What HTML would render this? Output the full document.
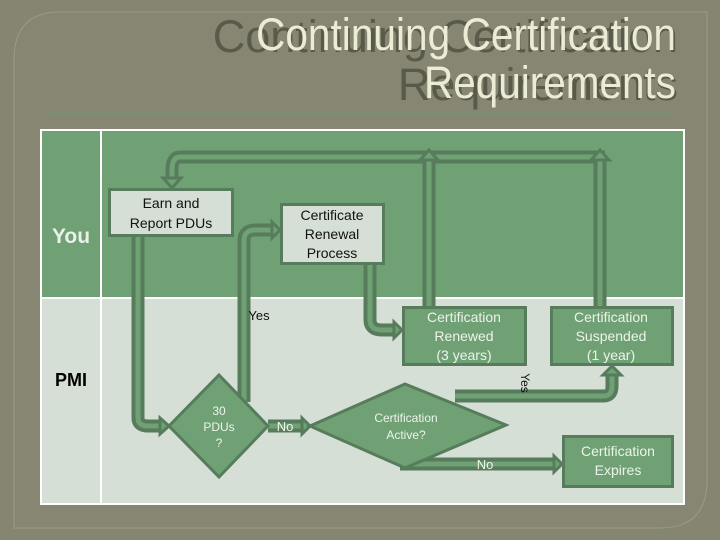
<!DOCTYPE html>
<html><head><meta charset="utf-8"><style>
html,body{margin:0;padding:0;background:#878774;}
svg{display:block}
</style></head><body>
<svg width="720" height="540" viewBox="0 0 720 540" xmlns="http://www.w3.org/2000/svg" font-family="Liberation Sans, sans-serif">
<rect x="0" y="0" width="720" height="540" fill="#858572"/>
<path d="M60 12 H707 V480 Q707 528 660 528 H14 V60 Q14 12 60 12 Z" fill="#868673" stroke="#9a9a88" stroke-width="1"/>
<g font-family="Liberation Sans Narrow, Liberation Sans, sans-serif" font-size="45" fill="#ecebd6" text-anchor="end">
<text x="678" y="52" fill="#3e3e30" opacity="0.6">Continuing Certification</text>
<text x="676" y="50" textLength="420" lengthAdjust="spacingAndGlyphs">Continuing Certification</text>
<text x="678" y="100" fill="#3e3e30" opacity="0.6">Requirements</text>
<text x="676" y="98" textLength="252" lengthAdjust="spacingAndGlyphs">Requirements</text>
</g>
<line x1="46" y1="113" x2="674" y2="113" stroke="#7d8f72" stroke-width="3"/>
<!-- table -->
<rect x="41" y="130" width="643" height="168" fill="#6fa175"/>
<rect x="41" y="298" width="643" height="206" fill="#d5dfd5"/>
<rect x="41" y="130" width="643" height="374" fill="none" stroke="#ffffff" stroke-width="2"/>
<line x1="41" y1="298" x2="684" y2="298" stroke="#fff" stroke-width="2"/>
<line x1="101" y1="130" x2="101" y2="504" stroke="#fff" stroke-width="2"/>
<text x="71" y="243" font-size="21" font-weight="bold" fill="#ecf0e8" text-anchor="middle">You</text>
<text x="71" y="386" font-size="18" font-weight="bold" fill="#000" text-anchor="middle">PMI</text>
<!-- connectors -->
<g fill="none" stroke-linejoin="round">
<g stroke="#567c5b" stroke-width="13">
<path d="M429 306 V157 M600 306 V157 M605 157 H180 Q172 157 172 170 V182"/>
<path d="M138 237 V418 Q138 426 148 426 H162"/>
<path d="M244 402 V240 Q244 230 256 230 H274"/>
<path d="M370 265 V320 Q370 330 382 330 H396"/>
<path d="M268 426 H304"/>
<path d="M455 396 H604 Q612 396 612 386 V372"/>
<path d="M400 464 H556"/>
</g>
<g stroke="#6fa175" stroke-width="5">
<path d="M429 306 V157 M600 306 V157 M605 157 H180 Q172 157 172 170 V182"/>
<path d="M138 237 V418 Q138 426 148 426 H162"/>
<path d="M244 402 V240 Q244 230 256 230 H274"/>
<path d="M370 265 V320 Q370 330 382 330 H396"/>
<path d="M268 426 H304"/>
<path d="M455 396 H604 Q612 396 612 386 V372"/>
<path d="M400 464 H556"/>
</g>
</g>
<g fill="#6fa175" stroke="#567c5b" stroke-width="3" stroke-linejoin="miter">
<polygon points="420,160 429,150 438,160"/>
<polygon points="591,160 600,150 609,160"/>
<polygon points="163,178 172,188 181,178"/>
<polygon points="160,418 169,426 160,434"/>
<polygon points="272,222 280,230 272,238"/>
<polygon points="394,322 402,330 394,338"/>
<polygon points="302,418 310,426 302,434"/>
<polygon points="603,375 612,366 621,375"/>
<polygon points="554,456 562,464 554,472"/>
</g>
<!-- boxes -->
<rect x="109.5" y="189.5" width="123" height="46" fill="#d5dfd5" stroke="#567c5b" stroke-width="3"/>
<text x="171" y="208" font-size="14" fill="#111" text-anchor="middle">Earn and</text>
<text x="171" y="228" font-size="14" fill="#111" text-anchor="middle">Report PDUs</text>
<rect x="281.5" y="204.5" width="102" height="59" fill="#d5dfd5" stroke="#567c5b" stroke-width="3"/>
<g font-size="14" fill="#111" text-anchor="middle">
<text x="332" y="220">Certificate</text><text x="332" y="239">Renewal</text><text x="332" y="258">Process</text>
</g>
<rect x="403.5" y="307.5" width="122" height="57" fill="#6fa175" stroke="#567c5b" stroke-width="3"/>
<g font-size="14" fill="#eef3ea" text-anchor="middle">
<text x="464" y="322">Certification</text><text x="464" y="341">Renewed</text><text x="464" y="360">(3 years)</text>
</g>
<rect x="551.5" y="307.5" width="121" height="57" fill="#6fa175" stroke="#567c5b" stroke-width="3"/>
<g font-size="14" fill="#eef3ea" text-anchor="middle">
<text x="611" y="322">Certification</text><text x="611" y="341">Suspended</text><text x="611" y="360">(1 year)</text>
</g>
<rect x="563.5" y="436.5" width="109" height="50" fill="#6fa175" stroke="#567c5b" stroke-width="3"/>
<g font-size="14" fill="#eef3ea" text-anchor="middle">
<text x="618" y="456">Certification</text><text x="618" y="475">Expires</text>
</g>
<polygon points="219,375 268,426 219,477 169,426" fill="#6fa175" stroke="#567c5b" stroke-width="3"/>
<g font-size="12" fill="#eef3ea" text-anchor="middle">
<text x="219" y="415">30</text><text x="219" y="431">PDUs</text><text x="219" y="447">?</text>
</g>
<polygon points="405,384 506,425 405,468 310,426" fill="#6fa175" stroke="#567c5b" stroke-width="3"/>
<g font-size="12" fill="#eef3ea" text-anchor="middle">
<text x="406" y="422">Certification</text><text x="406" y="439">Active?</text>
</g>
<text x="259" y="320" font-size="13" fill="#111" text-anchor="middle">Yes</text>
<text x="285" y="431" font-size="13" fill="#eef3ea" text-anchor="middle">No</text>
<text x="485" y="469" font-size="13" fill="#eef3ea" text-anchor="middle">No</text>
<text transform="translate(521,383) rotate(90)" font-size="12" fill="#111" text-anchor="middle">Yes</text>
</svg>
</body></html>
